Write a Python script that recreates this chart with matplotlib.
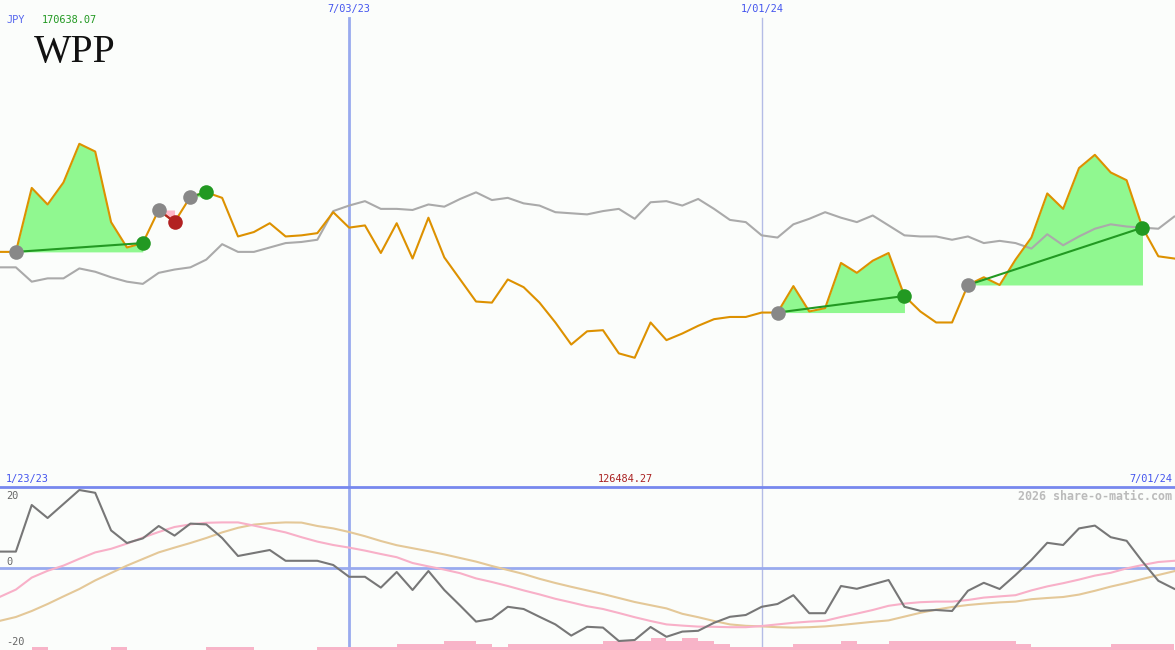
import numpy as np
import matplotlib.pyplot as plt

# weekly closes (thousand JPY), 1/23/23 .. 7/01/24
wpp = [147.8, 147.8, 153.6, 152.1, 154.1, 157.6, 156.9, 150.5, 148.2, 148.6,
       151.6, 150.5, 152.8, 153.2, 152.7, 149.2, 149.6, 150.4, 149.2, 149.3,
       149.5, 151.4, 150.0, 150.2, 147.7, 150.4, 147.2, 150.9, 147.3, 145.3,
       143.3, 143.2, 145.3, 144.6, 143.2, 141.4, 139.4, 140.6, 140.7, 138.6,
       138.2, 141.4, 139.8, 140.4, 141.1, 141.7, 141.9, 141.9, 142.3, 142.3,
       144.7, 142.4, 142.7, 146.8, 145.9, 147.0, 147.7, 143.8, 142.4, 141.4,
       141.4, 144.8, 145.5, 144.8, 147.1, 149.1, 153.1, 151.7, 155.4, 156.6,
       155.0, 154.3, 150.0, 147.4, 147.2]

benchmark = [146.4, 146.4, 145.1, 145.4, 145.4, 146.3, 146.0, 145.5, 145.1, 144.9,
             145.9, 146.2, 146.4, 147.1, 148.5, 147.8, 147.8, 148.2, 148.6, 148.7,
             148.9, 151.5, 152.0, 152.4, 151.7, 151.7, 151.6, 152.1, 151.9, 152.6,
             153.2, 152.5, 152.7, 152.2, 152.0, 151.4, 151.3, 151.2, 151.5, 151.7,
             150.8, 152.3, 152.4, 152.0, 152.6, 151.7, 150.7, 150.5, 149.3, 149.1,
             150.3, 150.8, 151.4, 150.9, 150.5, 151.1, 150.2, 149.3, 149.2, 149.2,
             148.9, 149.2, 148.6, 148.8, 148.6, 148.1, 149.4, 148.4, 149.2, 149.9,
             150.3, 150.1, 150.0, 149.9, 151.0]

momentum = [4.1, 4.1, 15.75, 12.5, 16.0, 19.5, 18.8, 9.4, 6.25, 7.4,
            10.5, 8.1, 11.1, 10.9, 7.5, 3.0, 3.75, 4.5, 1.8, 1.8,
            1.8, 0.75, -2.2, -2.2, -4.9, -1.0, -5.5, -0.75, -5.5, -9.4,
            -13.4, -12.7, -9.7, -10.25, -12.2, -14.1, -16.9, -14.7, -14.9, -18.25,
            -18.0, -14.75, -17.2, -15.9, -15.7, -13.7, -12.2, -11.75, -9.7, -9.0,
            -6.8, -11.3, -11.3, -4.5, -5.2, -4.1, -3.0, -9.7, -10.7, -10.5,
            -10.75, -5.7, -3.7, -5.25, -1.75, 2.0, 6.3, 5.75, 9.9, 10.6,
            7.7, 6.8, 1.6, -3.2, -5.2]

ma_fast = [-7.2, -5.4, -2.4, -0.7, 0.6, 2.3, 3.9, 4.8, 6.1, 7.6,
           9.0, 10.25, 10.9, 11.3, 11.4, 11.4, 10.6, 9.75, 8.9, 7.7,
           6.6, 5.75, 5.1, 4.35, 3.5, 2.7, 1.25, 0.4, -0.4, -1.3,
           -2.6, -3.5, -4.5, -5.6, -6.6, -7.7, -8.6, -9.55, -10.25, -11.25,
           -12.3, -13.25, -14.1, -14.4, -14.65, -14.7, -14.8, -14.8, -14.5, -14.1,
           -13.7, -13.4, -13.2, -12.25, -11.4, -10.5, -9.45, -8.9, -8.55, -8.4,
           -8.4, -8.0, -7.4, -7.1, -6.8, -5.6, -4.6, -3.8, -2.9, -1.9,
           -1.2, -0.1, 0.75, 1.5, 1.8]

ma_slow = [-13.2, -12.25, -10.75, -9.0, -7.1, -5.25, -3.1, -1.25, 0.6, 2.25,
           3.9, 5.1, 6.25, 7.5, 8.9, 10.05, 10.85, 11.2, 11.4, 11.35,
           10.5, 9.9, 9.0, 7.95, 6.75, 5.7, 4.95, 4.2, 3.4, 2.5,
           1.6, 0.5, -0.5, -1.5, -2.7, -3.75, -4.7, -5.6, -6.5, -7.5,
           -8.5, -9.3, -10.1, -11.45, -12.3, -13.25, -14.1, -14.45, -14.6, -14.8,
           -14.9, -14.8, -14.6, -14.25, -13.85, -13.45, -13.1, -12.15, -11.2, -10.4,
           -9.75, -9.25, -8.9, -8.6, -8.4, -7.8, -7.5, -7.25, -6.65, -5.7,
           -4.65, -3.75, -2.75, -1.75, -0.8]

volume_level = [0, 0, 1, 0, 0, 0, 0, 1, 0, 0,
                0, 0, 0, 1, 1, 1, 0, 0, 0, 0,
                1, 1, 1, 1, 1, 2, 2, 2, 3, 3,
                2, 1, 2, 2, 2, 2, 2, 2, 3, 3,
                3, 4, 3, 4, 3, 2, 1, 1, 1, 1,
                2, 2, 2, 3, 2, 2, 3, 3, 3, 3,
                3, 3, 3, 3, 2, 1, 1, 1, 1, 1,
                2, 2, 2, 2]

buys = [1, 10, 12, 49, 61]
sells = [9, 11, 13, 57, 72]

date_marks = [('7/03/23', 22, '#99aaee', 2.0), ('1/01/24', 48, '#b4bce6', 1.0)]

bg = '#fbfdfb'
W, H = 1175, 650
x = np.arange(len(wpp))
price = np.array(wpp)


def px(xp, yp):
    return xp / W, 1 - yp / H


fig = plt.figure(figsize=(W / 100, H / 100), dpi=100, facecolor=bg)
ax = fig.add_axes([0, 163 / H, 1, 487 / H], facecolor=bg)
ax2 = fig.add_axes([0, 0, 1, 163 / H], facecolor=bg)
for a in (ax, ax2):
    a.set_xlim(0, 74.05)
    a.set_xticks([])
    a.set_yticks([])
    for s in a.spines.values():
        s.set_visible(False)
ax.set_ylim(126.484, 170.638)
ax2.set_ylim(-20.5, 20.25)
ax2.spines['top'].set_visible(True)
ax2.spines['top'].set_color('#7788ee')
ax2.spines['top'].set_linewidth(2)

for label, i, col, lw in date_marks:
    ax.axvline(i, ymax=1 - 18 / 487, color=col, lw=lw, zorder=1)
    ax2.axvline(i, color=col, lw=lw, zorder=1)
    fig.text(*px(i * 15.87, 9), label, ha='center', va='center',
             family='DejaVu Sans Mono', fontsize=7.4, color='#4455ee')

# trades
for b, s in zip(buys, sells):
    seg = slice(b, s + 1)
    base = price[b]
    ax.fill_between(x[seg], price[seg], base, where=price[seg] >= base,
                    interpolate=True, color='#90f890', lw=0, zorder=2)
    ax.fill_between(x[seg], price[seg], base, where=price[seg] < base,
                    interpolate=True, color='#ffb6c8', lw=0, zorder=2)

ax.plot(x, benchmark, color='#aaaaaa', lw=1.5, zorder=3)
ax.plot(x, wpp, color='#dd9100', lw=1.5, zorder=4)

for b, s in zip(buys, sells):
    win = price[s] > price[b]
    col = '#229922' if win else '#b22222'
    ax.plot([b, s], [price[b], price[s]], color=col, lw=1.5, zorder=5)
    ax.plot(b, price[b], 'o', ms=10.5, color='#888888', mec='none', zorder=6)
    ax.plot(s, price[s], 'o', ms=10.5, color=col, mec='none', zorder=6)

# lower panel
ax2.axhline(0, color='#99aaee', lw=2, zorder=1)
ax2.bar(np.arange(len(volume_level)), np.array(volume_level) * 0.75, bottom=-20.5,
        width=1.0, align='edge', color='#f8b4c8', lw=0, zorder=2)
ax2.plot(x, ma_slow, color='#e4c898', lw=1.5, zorder=3)
ax2.plot(x, ma_fast, color='#f8b0c8', lw=1.5, zorder=3)
ax2.plot(x, momentum, color='#777777', lw=1.5, zorder=4)

mono = 'DejaVu Sans Mono'
fig.text(*px(6, 20), 'JPY', family=mono, fontsize=7.4, color='#5566ee', va='center')
fig.text(*px(42, 20), '170638.07', family=mono, fontsize=7.4, color='#229922', va='center')
fig.text(*px(34, 62), 'WPP', family='Liberation Serif', fontsize=28.5, color='#111111',
         va='baseline')
fig.text(*px(6, 479), '1/23/23', family=mono, fontsize=7.4, color='#4455ee', va='center')
fig.text(*px(625, 479), '126484.27', family=mono, fontsize=7.4, color='#aa2222',
         va='center', ha='center')
fig.text(*px(1172, 479), '7/01/24', family=mono, fontsize=7.4, color='#4455ee',
         va='center', ha='right')
fig.text(*px(1172, 496), '2026 share-o-matic.com', family=mono, fontsize=8.4,
         color='#bbbbbb', va='center', ha='right', weight='bold')
fig.text(*px(6, 496), '20', family=mono, fontsize=7.4, color='#666666', va='center')
fig.text(*px(6, 562), '0', family=mono, fontsize=7.4, color='#666666', va='center')
fig.text(*px(6, 642), '-20', family=mono, fontsize=7.4, color='#666666', va='center')

fig.savefig('out.png', dpi=100, facecolor=bg)
